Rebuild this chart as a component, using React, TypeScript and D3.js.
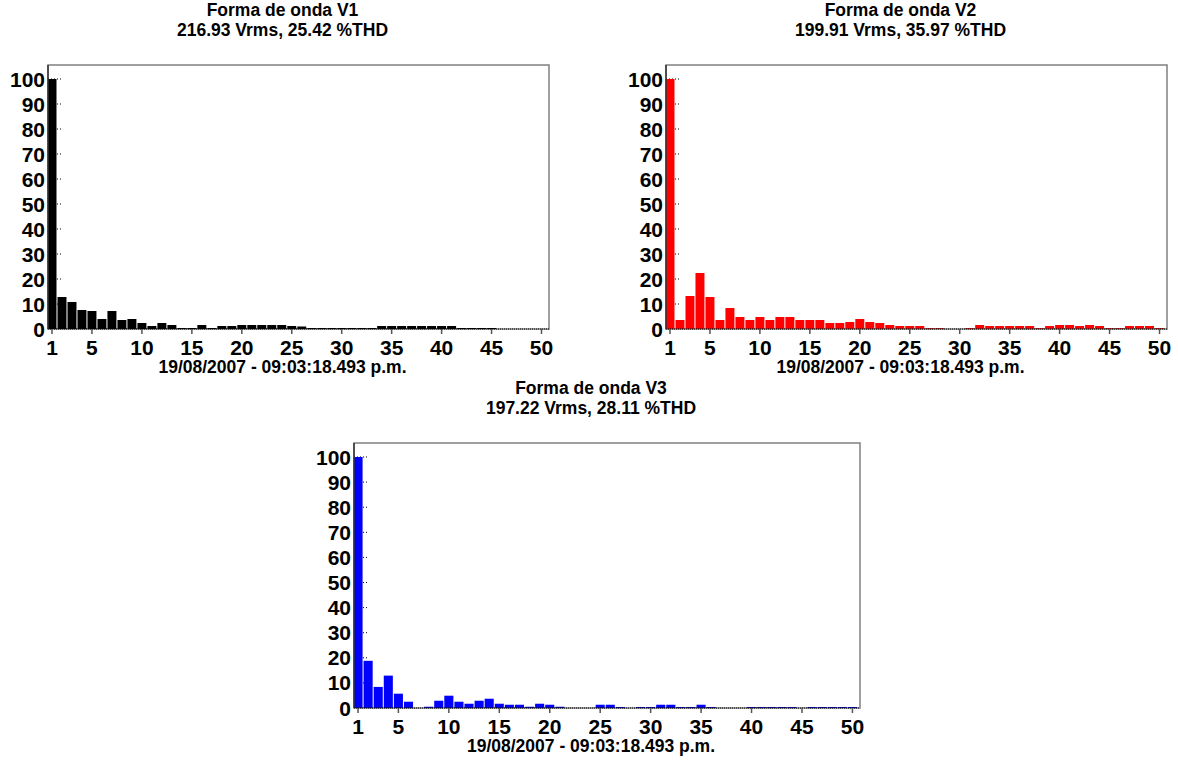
import React from "react";
import * as d3 from "d3";

const harmonics: number[] = d3.range(1, 51);
const xTicks: number[] = [1, 5, 10, 15, 20, 25, 30, 35, 40, 45, 50];
const yTicks: number[] = [0, 10, 20, 30, 40, 50, 60, 70, 80, 90, 100];

const v1Values: number[] = [
  100, 12.8, 10.8, 7.6, 7.2, 4.0, 7.2, 3.6, 4.0, 2.4,
  1.2, 2.4, 1.6, 0.4, 0.4, 1.6, 0.4, 1.2, 1.2, 1.6,
  1.6, 1.6, 1.6, 1.6, 1.2, 1.0, 0.4, 0.4, 0.4, 0.4,
  0.4, 0.4, 0.4, 1.2, 1.2, 1.2, 1.2, 1.2, 1.2, 1.2,
  1.2, 0.4, 0.4, 0.4, 0.4, 0, 0, 0, 0, 0,
];
const v2Values: number[] = [
  100, 3.6, 13.2, 22.4, 12.8, 3.6, 8.4, 4.8, 3.6, 4.8,
  3.6, 4.8, 4.8, 3.6, 3.6, 3.6, 2.4, 2.4, 2.8, 4.0,
  2.8, 2.4, 1.6, 1.2, 1.2, 1.2, 0.4, 0.4, 0, 0,
  0.4, 1.6, 1.2, 1.2, 1.2, 1.2, 1.2, 0.4, 1.2, 1.6,
  1.6, 1.2, 1.6, 1.2, 0.4, 0.4, 1.2, 1.2, 1.2, 0.4,
];
const v3Values: number[] = [
  100, 18.8, 8.4, 12.9, 5.7, 2.5, 0, 0.5, 2.9, 4.9,
  2.5, 1.7, 2.9, 3.7, 1.7, 1.3, 1.3, 0.5, 1.7, 1.3,
  0.5, 0, 0, 0, 1.3, 1.3, 0.4, 0, 0.4, 0.4,
  1.3, 1.3, 0.4, 0.4, 1.3, 0.4, 0, 0, 0, 0.4,
  0.4, 0.4, 0.4, 0.4, 0, 0.4, 0.4, 0.4, 0.4, 0.4,
];

const titles: string[] = ["Forma de onda V1", "Forma de onda V2", "Forma de onda V3"];
const subtitles: string[] = [
  "216.93 Vrms, 25.42 %THD",
  "199.91 Vrms, 35.97 %THD",
  "197.22 Vrms, 28.11 %THD",
];
const dateLabel = "19/08/2007 - 09:03:18.493 p.m.";
const colors: string[] = ["#000000", "#ff0000", "#0000ff"];

const FONT = "'Liberation Sans', Arial, Helvetica, sans-serif";

interface PanelProps {
  id: string;
  values: number[];
  color: string;
  title: string;
  subtitle: string;
  left: number;
  right: number;
  baseline: number;
  px100: number;
  top: number;
}

function Panel({ id, values, color, title, subtitle, left, right, baseline, px100, top }: PanelProps) {
  const x = d3.scaleLinear().domain([0.6, 50.75]).range([left, right]);
  const y = d3.scaleLinear().domain([0, 100]).range([baseline, baseline - px100]);
  const step = x(2) - x(1);
  const bw = step * 0.9;
  const cx = (left + right) / 2 - 16;
  return (
    <g fontFamily={FONT} fontWeight="bold">
      <defs>
        <clipPath id={id}>
          <rect x={left} y={top} width={right - left} height={baseline - top} />
        </clipPath>
      </defs>
      <text x={cx} y={top - 49} textAnchor="middle" fontSize={17.5}>{title}</text>
      <text x={cx} y={top - 29} textAnchor="middle" fontSize={17.5}>{subtitle}</text>
      <rect x={left} y={top} width={right - left} height={baseline - top} fill="#fff" stroke="#808080" strokeWidth={1.5} />
      {yTicks.filter((t) => t > 0).map((t) => (
        <line key={"yt" + t} x1={left} x2={left + 14} y1={y(t)} y2={y(t)} stroke="#000" strokeWidth={1} strokeDasharray="1,2" />
      ))}
      <g clipPath={`url(#${id})`}>
        {harmonics.map((h, i) => (
          values[i] > 0 ? (
            <rect key={h} x={x(h) - bw / 2} y={y(values[i])} width={bw} height={baseline - y(values[i])} fill={color} />
          ) : null
        ))}
      </g>
      <line x1={left} x2={right} y1={baseline} y2={baseline} stroke="#000" strokeWidth={1.2} strokeDasharray="1,1" />
      <line x1={left} x2={left} y1={top} y2={baseline} stroke="#333" strokeWidth={1.5} />
      {xTicks.map((t) => (
        <g key={"xt" + t}>
          <line x1={x(t)} x2={x(t)} y1={baseline} y2={baseline + 5} stroke="#555" strokeWidth={1.5} />
          <text x={x(t)} y={baseline + 26} textAnchor="middle" fontSize={21}>{t}</text>
        </g>
      ))}
      {yTicks.map((t) => (
        <text key={"yl" + t} x={left - 3} y={y(t) + 7.5} textAnchor="end" fontSize={21}>{t}</text>
      ))}
      <text x={cx} y={baseline + 44} textAnchor="middle" fontSize={17.5}>{dateLabel}</text>
    </g>
  );
}

export default function App() {
  return (
    <svg width={1178} height={766} style={{ position: "absolute", left: 0, top: 0, background: "#fff" }}>
      <rect x={0} y={0} width={1178} height={766} fill="#fff" />
      <Panel id="c1" values={v1Values} color={colors[0]} title={titles[0]} subtitle={subtitles[0]}
        left={48} right={549} baseline={329} px100={250} top={65} />
      <Panel id="c2" values={v2Values} color={colors[1]} title={titles[1]} subtitle={subtitles[1]}
        left={666} right={1167} baseline={329} px100={250} top={65} />
      <Panel id="c3" values={v3Values} color={colors[2]} title={titles[2]} subtitle={subtitles[2]}
        left={354} right={860} baseline={708} px100={251} top={443} />
    </svg>
  );
}
